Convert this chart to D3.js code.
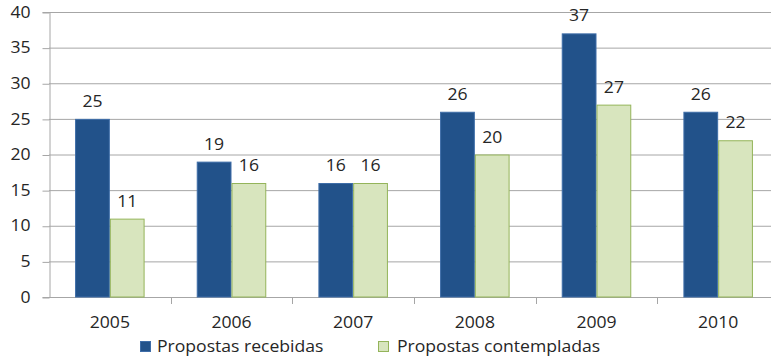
<!DOCTYPE html>
<html>
<head>
<meta charset="utf-8">
<script src="https://cdn.jsdelivr.net/npm/d3@7"></script>
<style>
  html, body { margin: 0; padding: 0; background: #fff; }
  svg { display: block; font-family: "Open Sans", "Liberation Sans", sans-serif; }
</style>
</head>
<body>
<svg id="chart" width="771" height="357"></svg>
<script>
const years = ["2005", "2006", "2007", "2008", "2009", "2010"];
const recebidas = [25, 19, 16, 26, 37, 26];
const contempladas = [11, 16, 16, 20, 27, 22];
const seriesNames = ["Propostas recebidas", "Propostas contempladas"];
const yTicks = [0, 5, 10, 15, 20, 25, 30, 35, 40];

const fills = ["#22528A", "#D8E5BE"];
const strokes = ["#3E6DA8", "#94B45A"];
const textColor = "#262626";
const gridColor = "#A6A6A6";
const fontSize = 16;
const widen = 1.1; // slightly wide lettering

const svg = d3.select("#chart");
const plotLeft = 49, plotRight = 779, plotTop = 12, plotBottom = 297;

const x = d3.scaleBand().domain(years).range([plotLeft, plotRight]).paddingInner(0).paddingOuter(0);
const inner = d3.scaleBand().domain([0, 1]).range([0, x.bandwidth()]).paddingInner(0).paddingOuter(0.75);
const y = d3.scaleLinear().domain([0, 40]).range([plotBottom, plotTop]);

// place a text element at (px, py) with widened glyphs
function placeText(sel, px, py) {
  sel.attr("x", 0).attr("y", 0)
     .attr("transform", (d, i, n) => {
       const ax = typeof px === "function" ? px(d, i, n) : px;
       const ay = typeof py === "function" ? py(d, i, n) : py;
       return `translate(${ax},${ay}) scale(${widen},1)`;
     });
}

// horizontal gridlines
svg.append("g")
  .selectAll("line")
  .data(yTicks.filter(d => d > 0))
  .join("line")
  .attr("x1", plotLeft).attr("x2", 771)
  .attr("y1", d => y(d) + 0.5).attr("y2", d => y(d) + 0.5)
  .attr("stroke", gridColor).attr("stroke-width", 1);

// y axis
const yAxis = svg.append("g")
  .attr("transform", `translate(${plotLeft + 0.5},0)`)
  .call(d3.axisLeft(y).tickValues(yTicks).tickSize(7).tickPadding(12));
yAxis.select(".domain").attr("stroke", gridColor);
yAxis.selectAll(".tick line").attr("stroke", gridColor).attr("transform", "translate(0,0.5)");
yAxis.selectAll(".tick text")
  .attr("font-size", fontSize).attr("fill", textColor)
  .attr("font-family", "Open Sans, sans-serif")
  .each(function () {
    const t = d3.select(this);
    const tx = +t.attr("x");
    t.attr("x", 0).attr("transform", `translate(${tx},0) scale(${widen},1)`);
  });

// x axis
const xAxis = svg.append("g")
  .attr("transform", `translate(0,${plotBottom + 0.5})`)
  .call(d3.axisBottom(x).tickSize(0).tickPadding(19));
xAxis.select(".domain").attr("stroke", gridColor).attr("d", `M${plotLeft},0H771`);
xAxis.selectAll(".tick text")
  .attr("font-size", fontSize).attr("fill", textColor)
  .attr("font-family", "Open Sans, sans-serif")
  .attr("transform", `scale(${widen},1)`);
// category boundary ticks
svg.append("g")
  .selectAll("line")
  .data(years.slice(1))
  .join("line")
  .attr("x1", d => Math.round(x(d)) + 0.5).attr("x2", d => Math.round(x(d)) + 0.5)
  .attr("y1", plotBottom).attr("y2", plotBottom + 7)
  .attr("stroke", gridColor);

// bars with value labels
const series = [recebidas, contempladas];
series.forEach((vals, si) => {
  const rows = years.map((yr, i) => ({ yr, v: vals[i] }));
  const g = svg.append("g");
  g.selectAll("rect")
    .data(rows)
    .join("rect")
    .attr("x", d => x(d.yr) + inner(si) + 0.5)
    .attr("y", d => y(d.v) + 0.5)
    .attr("width", inner.bandwidth() - 1)
    .attr("height", d => y(0) - y(d.v) - 0.5)
    .attr("fill", fills[si])
    .attr("stroke", strokes[si])
    .attr("stroke-width", 1);
  g.selectAll("text")
    .data(rows)
    .join("text")
    .attr("text-anchor", "middle")
    .attr("font-size", fontSize)
    .attr("fill", textColor)
    .text(d => d.v)
    .call(placeText,
          d => x(d.yr) + inner(si) + inner.bandwidth() / 2,
          d => y(d.v) - 12);
});

// legend
const legendItems = [
  { name: seriesNames[0], sx: 140, tx: 157 },
  { name: seriesNames[1], sx: 378, tx: 397 }
];
const lg = svg.append("g");
legendItems.forEach((it, i) => {
  lg.append("rect")
    .attr("x", it.sx + 0.5).attr("y", 341.5)
    .attr("width", 10).attr("height", 10)
    .attr("fill", fills[i]).attr("stroke", strokes[i]);
  lg.append("text")
    .attr("font-size", fontSize).attr("fill", textColor)
    .text(it.name)
    .call(placeText, it.tx, 352);
});
</script>
</body>
</html>
